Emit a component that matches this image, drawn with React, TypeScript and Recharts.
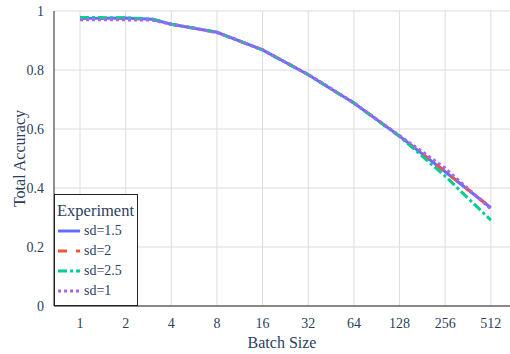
import { CartesianGrid, Line, LineChart, XAxis, YAxis } from "recharts";

const batchSizes = [1, 2, 3, 4, 8, 16, 32, 64, 128, 256, 512];
const xTicks = [1, 2, 4, 8, 16, 32, 64, 128, 256, 512];
const yTicks = [0, 0.2, 0.4, 0.6, 0.8, 1];

const sd15 = [0.975, 0.976, 0.972, 0.955, 0.928, 0.868, 0.784, 0.688, 0.576, 0.455, 0.333];
const sd2 = [0.975, 0.975, 0.972, 0.955, 0.928, 0.868, 0.784, 0.688, 0.575, 0.456, 0.334];
const sd25 = [0.978, 0.977, 0.972, 0.955, 0.928, 0.868, 0.784, 0.688, 0.575, 0.44, 0.291];
const sd1 = [0.97, 0.97, 0.969, 0.955, 0.927, 0.868, 0.785, 0.689, 0.578, 0.467, 0.329];

const SERIES = [
  { key: "sd15", name: "sd=1.5", color: "#636efa", dash: undefined as string | undefined },
  { key: "sd2", name: "sd=2", color: "#ef553b", dash: "9 9" },
  { key: "sd25", name: "sd=2.5", color: "#00cc96", dash: "9 3 3 3" },
  { key: "sd1", name: "sd=1", color: "#ab63fa", dash: "3 3" },
];

const FONT = "'Liberation Serif', 'Times New Roman', serif";
const TEXT = "#2a3f5f";

const data = batchSizes.map((b, i) => ({
  lx: Math.log2(b),
  sd15: sd15[i],
  sd2: sd2[i],
  sd25: sd25[i],
  sd1: sd1[i],
}));

function LegendBox() {
  return (
    <div
      style={{
        position: "absolute",
        left: 54,
        top: 194,
        width: 84,
        height: 112,
        border: "1px solid #222",
        background: "#fff",
        fontFamily: FONT,
        color: TEXT,
        boxSizing: "border-box",
      }}
    >
      <div style={{ fontSize: 16.5, paddingLeft: 2, marginTop: 7, lineHeight: "18px" }}>Experiment</div>
      {SERIES.map((s, i) => (
        <div key={s.key} style={{ display: "flex", alignItems: "center", height: 20, marginTop: i === 0 ? 1 : 0 }}>
          <svg width={27} height={10} style={{ marginLeft: 2 }}>
            <line x1={1} x2={23} y1={5} y2={5} stroke={s.color} strokeWidth={3} strokeDasharray={s.dash} />
          </svg>
          <span style={{ fontSize: 14 }}>{s.name}</span>
        </div>
      ))}
    </div>
  );
}

export default function App() {
  return (
    <div style={{ position: "absolute", left: 0, top: 0, width: 510, height: 354, background: "#fff" }}>
      <LineChart width={510} height={354} data={data} margin={{ top: 11, right: 0, left: 0, bottom: 0 }}>
        <CartesianGrid stroke="#dcdcdc" horizontalValues={yTicks} verticalValues={xTicks.map((t) => Math.log2(t))} />
        <XAxis
          type="number"
          dataKey="lx"
          domain={[-0.57, 9.42]}
          ticks={xTicks.map((t) => Math.log2(t))}
          tickFormatter={(v: number) => String(Math.round(Math.pow(2, v)))}
          tickLine={false}
          axisLine={{ stroke: "#222", strokeWidth: 1 }}
          height={48}
          tick={{ fontFamily: FONT, fontSize: 14, fill: TEXT }}
          tickMargin={6}
          label={{ value: "Batch Size", position: "insideBottom", offset: 6, style: { fontFamily: FONT, fontSize: 16, fill: TEXT } }}
        />
        <YAxis
          type="number"
          domain={[0, 1]}
          ticks={yTicks}
          tickFormatter={(v: number) => String(v)}
          tickLine={false}
          axisLine={{ stroke: "#222", strokeWidth: 1 }}
          width={54}
          tick={{ fontFamily: FONT, fontSize: 14, fill: TEXT }}
          tickMargin={4}
          label={{
            value: "Total Accuracy",
            angle: -90,
            position: "insideLeft",
            offset: 19,
            style: { fontFamily: FONT, fontSize: 16, fill: TEXT, textAnchor: "middle" },
          }}
        />
        {SERIES.map((s) => (
          <Line
            key={s.key}
            type="linear"
            dataKey={s.key}
            name={s.name}
            stroke={s.color}
            strokeWidth={3}
            strokeDasharray={s.dash}
            dot={false}
            activeDot={false}
            isAnimationActive={false}
          />
        ))}
      </LineChart>
      <LegendBox />
    </div>
  );
}
